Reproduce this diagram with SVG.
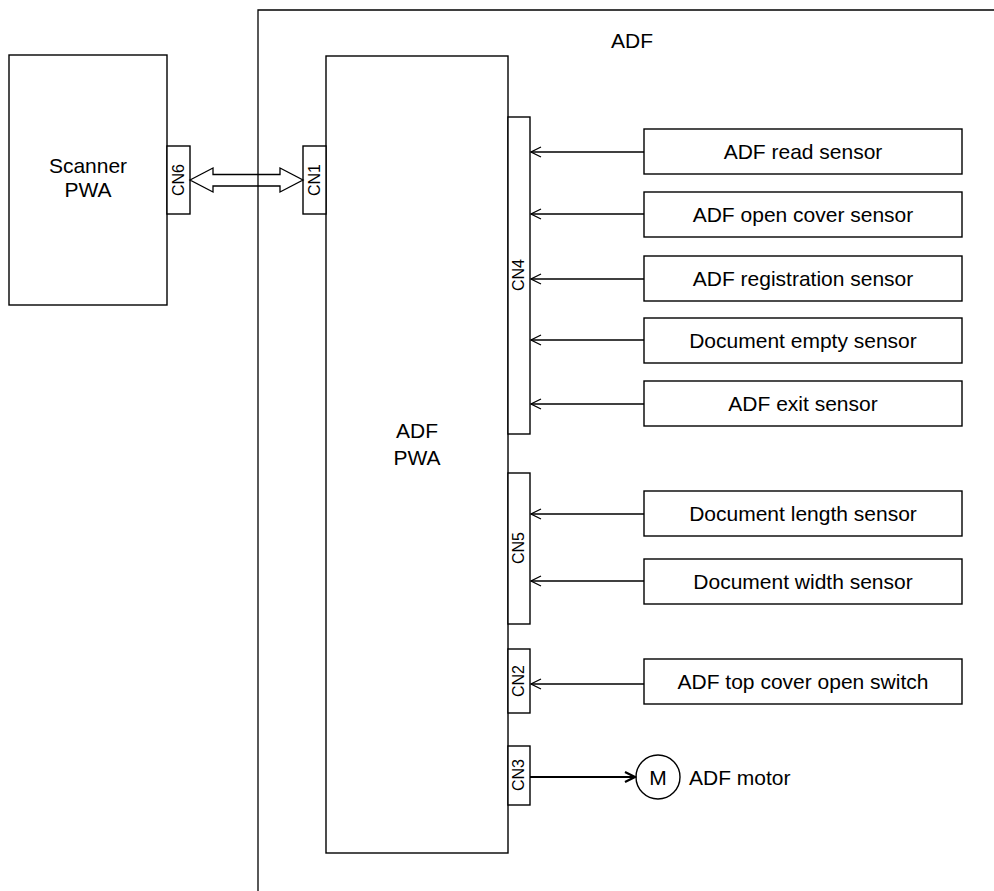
<svg xmlns="http://www.w3.org/2000/svg" width="994" height="891" viewBox="0 0 994 891">
<style>
.box{fill:#fff;stroke:#000;stroke-width:1.4}
.t{font-family:"Liberation Sans",Arial,sans-serif;font-size:21px;fill:#000;text-anchor:middle}
.tl{font-family:"Liberation Sans",Arial,sans-serif;font-size:21px;fill:#000}
.cn{font-family:"Liberation Sans",Arial,sans-serif;font-size:16px;fill:#000;text-anchor:middle}
.ln{fill:none;stroke:#000;stroke-width:1.3}
</style>
<defs>
<marker id="open" markerWidth="12" markerHeight="12" refX="11" refY="6" orient="auto" markerUnits="userSpaceOnUse">
<path d="M1,1 L11,6 L1,11" fill="none" stroke="#000" stroke-width="1.3"/>
</marker>
<marker id="bold" markerWidth="14" markerHeight="14" refX="12" refY="7" orient="auto" markerUnits="userSpaceOnUse">
<path d="M2,2 L12,7 L2,12" fill="none" stroke="#000" stroke-width="2.2"/>
</marker>
</defs>
<rect width="994" height="891" fill="#fff"/>

<g id="adf-frame">
<polyline class="ln" points="258,891 258,10 994,10" stroke-width="1.5"/>
<text class="t" x="632" y="48">ADF</text>
</g>

<g id="scanner-pwa">
<rect class="box" x="9" y="55" width="158" height="250"/>
<text class="t" x="88" y="173">Scanner</text>
<text class="t" x="88" y="197">PWA</text>
</g>
<g id="cn6">
<rect class="box" x="167" y="146" width="23" height="68"/>
<text class="cn" transform="translate(184,180) rotate(-90)">CN6</text>
</g>

<g id="adf-pwa">
<rect class="box" x="326" y="56" width="182" height="797"/>
<text class="t" x="417" y="438">ADF</text>
<text class="t" x="417" y="465">PWA</text>
</g>
<g id="cn1">
<rect class="box" x="303" y="146" width="23" height="68"/>
<text class="cn" transform="translate(320,180) rotate(-90)">CN1</text>
</g>
<g id="cn4">
<rect class="box" x="508" y="117" width="22" height="317"/>
<text class="cn" transform="translate(524,275) rotate(-90)">CN4</text>
</g>
<g id="cn5">
<rect class="box" x="508" y="473" width="22" height="151"/>
<text class="cn" transform="translate(524,548) rotate(-90)">CN5</text>
</g>
<g id="cn2">
<rect class="box" x="508" y="649" width="22" height="64"/>
<text class="cn" transform="translate(524,681) rotate(-90)">CN2</text>
</g>
<g id="cn3">
<rect class="box" x="508" y="746" width="22" height="59"/>
<text class="cn" transform="translate(524,775) rotate(-90)">CN3</text>
</g>

<g id="s-read">
<rect class="box" x="644" y="129" width="318" height="45"/>
<text class="t" x="803" y="159">ADF read sensor</text>
</g>
<g id="s-open">
<rect class="box" x="644" y="192" width="318" height="45"/>
<text class="t" x="803" y="222">ADF open cover sensor</text>
</g>
<g id="s-reg">
<rect class="box" x="644" y="256" width="318" height="45"/>
<text class="t" x="803" y="286">ADF registration sensor</text>
</g>
<g id="s-empty">
<rect class="box" x="644" y="318" width="318" height="45"/>
<text class="t" x="803" y="348">Document empty sensor</text>
</g>
<g id="s-exit">
<rect class="box" x="644" y="381" width="318" height="45"/>
<text class="t" x="803" y="411">ADF exit sensor</text>
</g>
<g id="s-length">
<rect class="box" x="644" y="491" width="318" height="45"/>
<text class="t" x="803" y="521">Document length sensor</text>
</g>
<g id="s-width">
<rect class="box" x="644" y="559" width="318" height="45"/>
<text class="t" x="803" y="589">Document width sensor</text>
</g>
<g id="s-switch">
<rect class="box" x="644" y="659" width="318" height="45"/>
<text class="t" x="803" y="689">ADF top cover open switch</text>
</g>
<g id="motor">
<circle class="box" cx="658" cy="777" r="22"/>
<text class="t" x="658" y="785">M</text>
<text class="tl" x="689" y="785">ADF motor</text>
</g>

<g id="connectors">
<polygon points="190,180 213,168 213,174.5 280,174.5 280,168 303,180 280,192 280,186 213,186 213,192" fill="none" stroke="#000" stroke-width="1.3"/>
<line class="ln" x1="644" y1="152" x2="531" y2="152" marker-end="url(#open)"/>
<line class="ln" x1="644" y1="214" x2="531" y2="214" marker-end="url(#open)"/>
<line class="ln" x1="644" y1="279" x2="531" y2="279" marker-end="url(#open)"/>
<line class="ln" x1="644" y1="340" x2="531" y2="340" marker-end="url(#open)"/>
<line class="ln" x1="644" y1="404" x2="531" y2="404" marker-end="url(#open)"/>
<line class="ln" x1="644" y1="514" x2="531" y2="514" marker-end="url(#open)"/>
<line class="ln" x1="644" y1="581" x2="531" y2="581" marker-end="url(#open)"/>
<line class="ln" x1="644" y1="684" x2="531" y2="684" marker-end="url(#open)"/>
<line x1="530" y1="777" x2="635" y2="777" stroke="#000" stroke-width="2.2" marker-end="url(#bold)"/>
</g>
</svg>
